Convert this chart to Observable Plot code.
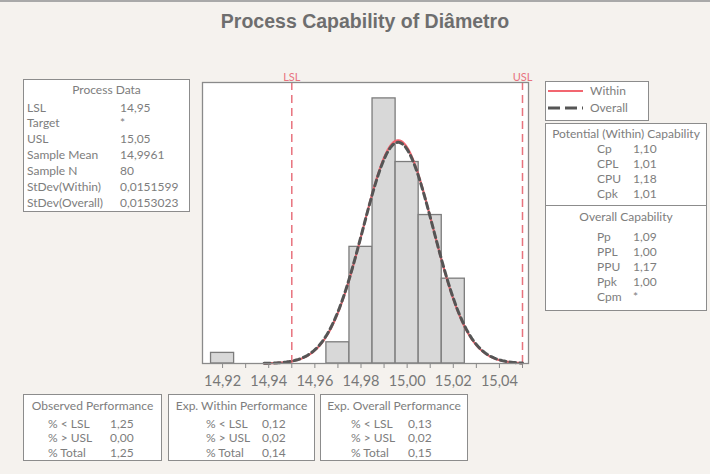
<!DOCTYPE html>
<html><head><meta charset="utf-8">
<script src="https://cdn.jsdelivr.net/npm/d3@7"></script>
<script src="https://cdn.jsdelivr.net/npm/@observablehq/plot@0.6"></script>
<style>
html,body{margin:0;padding:0;background:#f5f2ee;}
#root{position:relative;width:710px;height:474px;overflow:hidden;font-family:Lato,"Open Sans",sans-serif;color:#7a7a7a;}
#topline{position:absolute;left:0;top:0;width:710px;height:2px;background:#a9a9a9;}
#title{position:absolute;left:0;width:730px;top:10px;text-align:center;font-family:"Liberation Sans Narrow","Liberation Sans",sans-serif;font-weight:bold;font-size:19.5px;color:#6e6e6e;}
#chart{position:absolute;left:0;top:0;}
.box{position:absolute;border:1.5px solid #8c8c8c;background:#fff;box-sizing:border-box;}
.t{position:absolute;font-size:12px;line-height:14px;white-space:nowrap;color:#7d7d7d;}
.c{transform:translateX(-50%);}
.hr{position:absolute;height:0;border-top:1.5px solid #8c8c8c;}
</style></head>
<body><div id="root"><div id="topline"></div><div id="title">Process Capability of Diâmetro</div></div>
<script>
// ---- data ----
const binCenters = [14.92, 14.97, 14.98, 14.99, 15.00, 15.01, 15.02];
const binCounts = [1, 2, 11, 25, 19, 14, 8];
const binWidth = 0.01;
const LSL = 14.95, USL = 15.05;
const sampleMean = 14.9961, sampleN = 80;
const sdWithin = 0.0151599, sdOverall = 0.0153023;
const xTickLabels = [14.92, 14.94, 14.96, 14.98, 15.00, 15.02, 15.04];
const xMinorTicks = [14.92, 14.93, 14.94, 14.95, 14.96, 14.97, 14.98, 14.99, 15.00, 15.01, 15.02, 15.03, 15.04, 15.05];
const curveRange = [14.938, 15.05];

const processLabels = ["LSL", "Target", "USL", "Sample Mean", "Sample N", "StDev(Within)", "StDev(Overall)"];
const processValues = ["14,95", "*", "15,05", "14,9961", "80", "0,0151599", "0,0153023"];
const withinLabels = ["Cp", "CPL", "CPU", "Cpk"];
const withinValues = ["1,10", "1,01", "1,18", "1,01"];
const overallLabels = ["Pp", "PPL", "PPU", "Ppk", "Cpm"];
const overallValues = ["1,09", "1,00", "1,17", "1,00", "*"];
const perfLabels = ["% < LSL", "% > USL", "% Total"];
const observedPerf = ["1,25", "0,00", "1,25"];
const expWithinPerf = ["0,12", "0,02", "0,14"];
const expOverallPerf = ["0,13", "0,02", "0,15"];

// ---- derived tables ----
const bins = binCenters.map((c, i) => ({x1: c - binWidth / 2, x2: c + binWidth / 2, count: binCounts[i]}));
function normalCurve(sd) {
  const pts = [];
  const steps = 240;
  for (let i = 0; i <= steps; i++) {
    const x = curveRange[0] + (curveRange[1] - curveRange[0]) * i / steps;
    const z = (x - sampleMean) / sd;
    pts.push({x, y: sampleN * binWidth * Math.exp(-0.5 * z * z) / (sd * Math.sqrt(2 * Math.PI))});
  }
  return pts;
}
const withinCurve = normalCurve(sdWithin);
const overallCurve = normalCurve(sdOverall);
const fmt = d => d.toFixed(2).replace(".", ",");

const chart = Plot.plot({
  width: 710, height: 400,
  marginLeft: 202, marginRight: 182, marginTop: 82, marginBottom: 37,
  x: {domain: [14.9113, 15.0526], axis: null},
  y: {domain: [0, 26.5], axis: null},
  style: {background: "transparent", fontFamily: "Lato, 'Open Sans', sans-serif", overflow: "visible"},
  marks: [
    Plot.frame({fill: "#ffffff"}),
    Plot.rectY(bins, {x1: "x1", x2: "x2", y: "count", fill: "#d8d8d8", stroke: "#7c7c7c", strokeWidth: 1.3, inset: 0}),
    Plot.ruleX([LSL, USL], {stroke: "#e8737e", strokeWidth: 1.5, strokeDasharray: "8,5"}),
    Plot.line(withinCurve, {x: "x", y: "y", stroke: "#f26670", strokeWidth: 2.2}),
    Plot.line(overallCurve, {x: "x", y: "y", stroke: "#555555", strokeWidth: 3, strokeDasharray: "6,4"}),
    Plot.frame({stroke: "#8a8a8a", strokeWidth: 1.3}),
    Plot.axisX(xMinorTicks, {tickSize: 5, text: null, stroke: "#8a8a8a"}),
    Plot.axisX(xTickLabels, {tickSize: 0, tickPadding: 12, tickFormat: fmt, fill: "#787878", fontSize: 14.5}),
    Plot.text([{x: LSL, t: "LSL"}, {x: USL, t: "USL"}], {x: "x", text: "t", frameAnchor: "top", dy: -9, fill: "#e8737e", fontSize: 11})
  ]
});
chart.id = "chart";
const root = document.getElementById("root");
root.insertBefore(chart, document.getElementById("title"));

// ---- info boxes ----
function box(l, t, w, h) {
  const d = document.createElement("div");
  d.className = "box";
  Object.assign(d.style, {left: l + "px", top: t + "px", width: w + "px", height: h + "px"});
  root.appendChild(d);
}
function txt(x, y, s, center) {
  const d = document.createElement("div");
  d.className = "t" + (center ? " c" : "");
  d.textContent = s;
  Object.assign(d.style, {left: x + "px", top: (y - 7) + "px"});
  root.appendChild(d);
}
function hr(l, t, w) {
  const d = document.createElement("div");
  d.className = "hr";
  Object.assign(d.style, {left: l + "px", top: t + "px", width: w + "px"});
  root.appendChild(d);
}

// Process data
box(23, 79, 167, 133);
txt(106.5, 90, "Process Data", true);
processLabels.forEach((s, i) => { txt(27, 107.5 + i * 15.9, s); txt(120, 107.5 + i * 15.9, processValues[i]); });

// legend
box(545, 81, 104, 40);
const lg = document.createElementNS("http://www.w3.org/2000/svg", "svg");
lg.setAttribute("width", 40); lg.setAttribute("height", 30);
Object.assign(lg.style, {position: "absolute", left: "546px", top: "85px"});
lg.innerHTML = '<line x1="2" x2="37" y1="6" y2="6" stroke="#f26670" stroke-width="2"/>' +
  '<line x1="2" x2="37" y1="23" y2="23" stroke="#555" stroke-width="3" stroke-dasharray="12,5"/>';
root.appendChild(lg);
txt(590, 91, "Within"); txt(590, 108, "Overall");

// capability
box(545, 123, 162, 188);
hr(546, 205, 160);
txt(626, 133.5, "Potential (Within) Capability", true);
withinLabels.forEach((s, i) => { txt(597, 148.5 + i * 15, s); txt(633, 148.5 + i * 15, withinValues[i]); });
txt(626, 216.5, "Overall Capability", true);
overallLabels.forEach((s, i) => { txt(597, 237.3 + i * 15, s); txt(633, 237.3 + i * 15, overallValues[i]); });

// performance boxes
const perf = [
  {l: 23, w: 139, title: "Observed Performance", lx: 48, vx: 110, vals: observedPerf},
  {l: 168, w: 147, title: "Exp. Within Performance", lx: 206, vx: 262, vals: expWithinPerf},
  {l: 320, w: 148, title: "Exp. Overall Performance", lx: 351, vx: 408, vals: expOverallPerf}
];
perf.forEach(p => {
  box(p.l, 394, p.w, 67);
  txt(p.l + p.w / 2, 406, p.title, true);
  perfLabels.forEach((s, i) => { txt(p.lx, 423.5 + i * 14.5, s); txt(p.vx, 423.5 + i * 14.5, p.vals[i]); });
});
</script></body></html>
